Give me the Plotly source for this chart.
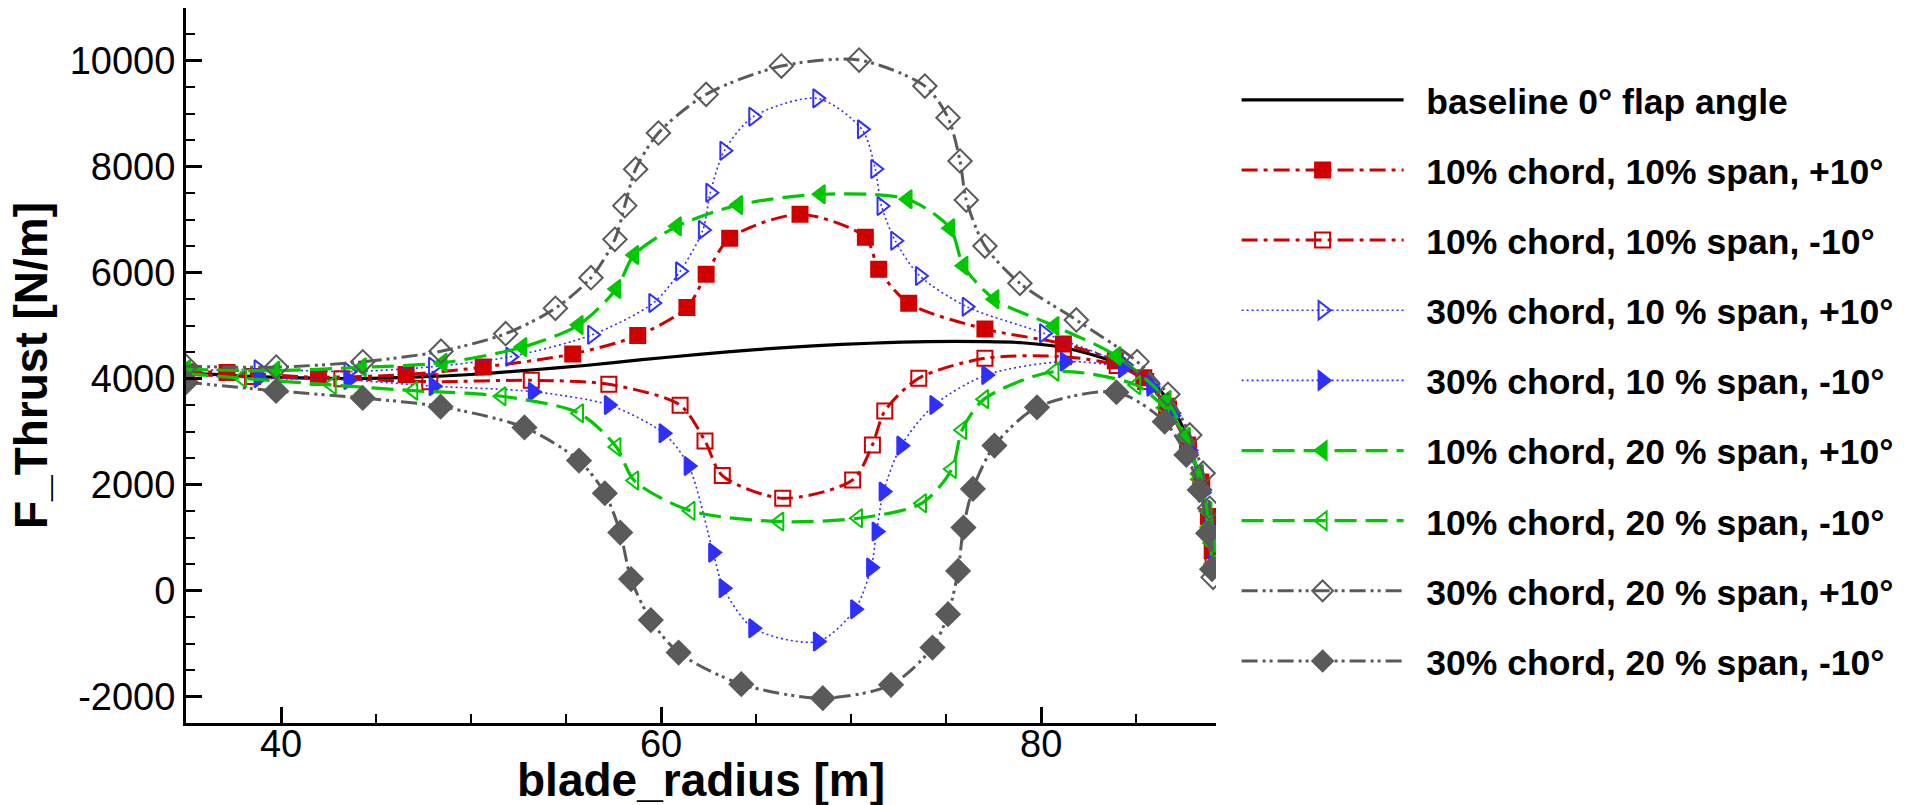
import plotly.graph_objects as go

# Spanwise thrust distribution along the blade for a set of trailing-edge flap cases
radius_base = [35.0, 38.0, 41.0, 44.0, 47.0, 50.0, 53.0, 56.0, 59.0, 62.0, 65.0, 68.0, 71.0,
               74.0, 77.0, 79.0, 81.0, 83.0, 84.5, 85.5, 86.5, 87.5, 88.2, 88.7, 89.0, 89.15]
thrust_base = [4110, 4050, 4015, 4005, 4030, 4080, 4160, 4250, 4360, 4460, 4550, 4620, 4670,
               4700, 4700, 4680, 4600, 4420, 4220, 4020, 3680, 3050, 2300, 1500, 800, 250]

radius_c10s10_p = [35.0, 37.16, 41.97, 46.58, 50.64, 55.35, 58.77, 61.36, 62.37, 63.61, 67.31,
                   70.75, 71.45, 73.03, 77.04, 81.17, 83.9, 85.4, 86.6, 87.7, 88.4, 88.8, 89.0]
thrust_c10s10_p = [4130, 4120, 4030, 4080, 4220, 4468, 4815, 5345, 5972, 6651, 7104,
                   6670, 6066, 5425, 4940, 4657, 4340, 4020, 3480, 2750, 2050, 1400, 750]

radius_c10s10_m = [35.0, 38.5, 43.2, 47.83, 53.17, 57.25, 61.0, 62.31, 63.22, 66.4, 70.08,
                   71.12, 71.77, 73.56, 77.04, 81.17, 84.0, 85.5, 86.7, 87.75, 88.45, 88.85, 89.05]
thrust_c10s10_m = [4080, 4040, 4000, 3945, 3970, 3895, 3500, 2826, 2171, 1744, 2090,
                   2750, 3390, 4009, 4386, 4417, 4250, 3950, 3430, 2700, 1980, 1280, 650]

radius_c30s10_p = [35.0, 38.82, 43.55, 48.0, 52.07, 56.37, 59.59, 61.0, 62.2, 62.59, 63.33, 64.85,
                   68.22, 70.57, 71.27, 71.6, 72.32, 73.62, 76.08, 80.15, 84.4, 85.8, 86.9, 87.8,
                   88.5, 88.85, 89.05]
thrust_c30s10_p = [4150, 4178, 4134, 4228, 4417, 4830, 5430, 6028, 6808, 7512, 8305, 8947,
                   9294, 8709, 7960, 7261, 6606, 5940, 5361, 4858, 4260, 3900, 3350, 2650,
                   1900, 1200, 500]

radius_c30s10_m = [35.0, 38.82, 43.55, 48.03, 53.25, 57.25, 60.13, 61.45, 62.74, 63.29, 64.85,
                   68.25, 70.21, 71.05, 71.34, 71.71, 72.64, 74.38, 77.11, 81.24, 84.3, 85.8,
                   86.9, 87.8, 88.5, 88.85, 89.05]
thrust_c30s10_m = [4080, 4009, 3977, 3860, 3756, 3505, 2971, 2354, 717, 45, -710,
                   -962, -351, 434, 1114, 1869, 2737, 3505, 4071, 4323, 4200, 3850,
                   3300, 2600, 1850, 1150, 450]

radius_c10s20_p = [35.0, 39.7, 44.25, 48.5, 52.7, 55.66, 57.64, 58.58, 60.83, 64.05, 68.4,
                   72.97, 75.21, 75.91, 77.54, 80.7, 83.96, 86.6, 87.6, 88.3, 88.75, 88.95]
thrust_c10s20_p = [4178, 4153, 4216, 4300, 4597, 5015, 5695, 6336, 6878, 7280, 7482,
                   7388, 6840, 6134, 5500, 4996, 4430, 3600, 2900, 2200, 1500, 900]

radius_c10s20_m = [35.0, 37.95, 42.67, 46.96, 51.6, 55.68, 57.65, 58.58, 61.55, 66.22, 70.36,
                   73.73, 75.3, 75.84, 77.0, 80.7, 85.0, 86.5, 87.6, 88.3, 88.8, 89.0]
thrust_c10s20_m = [4100, 4009, 3883, 3775, 3670, 3350, 2710, 2080, 1507, 1303, 1366,
                   1650, 2297, 3033, 3615, 4134, 3880, 3450, 2900, 2100, 1200, 500]

radius_c30s20_p = [35.0, 39.75, 44.3, 48.42, 51.82, 54.44, 56.31, 57.57, 58.09, 58.66, 59.86,
                   62.37, 66.33, 70.42, 73.88, 75.1, 75.73, 76.06, 77.04, 78.88, 81.85, 85.05,
                   86.67, 87.82, 88.52, 88.87, 89.05]
thrust_c30s20_p = [4235, 4220, 4320, 4520, 4850, 5330, 5908, 6632, 7268, 7956, 8640,
                   9369, 9904, 10017, 9526, 8928, 8111, 7374, 6506, 5802, 5110, 4323,
                   3707, 2939, 2216, 1555, 250]

radius_c30s20_m = [35.0, 39.74, 44.3, 48.4, 52.81, 55.68, 57.04, 57.85, 58.42, 59.46, 60.92,
                   64.22, 68.51, 72.1, 74.28, 75.1, 75.63, 75.91, 76.41, 77.54, 79.78, 83.96,
                   86.5, 87.64, 88.34, 88.78, 88.99]
thrust_c30s20_m = [3935, 3770, 3637, 3473, 3080, 2454, 1838, 1095, 218, -556, -1170,
                   -1767, -2031, -1780, -1075, -446, 372, 1190, 1920, 2738, 3461, 3745,
                   3190, 2561, 1901, 1083, 404]

series_labels = [
    "baseline 0° flap angle",
    "10% chord, 10% span, +10°",
    "10% chord, 10% span, -10°",
    "30% chord, 10 % span, +10°",
    "30% chord, 10 % span, -10°",
    "10% chord, 20 % span, +10°",
    "10% chord, 20 % span, -10°",
    "30% chord, 20 % span, +10°",
    "30% chord, 20 % span, -10°",
]

thrust_tick_values = [-2000, 0, 2000, 4000, 6000, 8000, 10000]
thrust_tick_labels = ["-2000", "0", "2000", "4000", "6000", "8000", "10000"]
radius_tick_values = [40, 60, 80]
radius_tick_labels = ["40", "60", "80"]

RED = "#d00000"
BLUE = "#2f2fff"
GREEN = "#00c800"
GRAY = "#5a5a5a"

DASHDOT = "16px,6px,4px,6px"
DOTTED = "2px,3px"
DASHED = "22px,9px"
DASHDOTDOT = "16px,5px,3px,4px,3px,5px"

styles = [
    dict(x=radius_base, y=thrust_base, color="#000000", dash="solid", width=3.2, symbol=None, size=0),
    dict(x=radius_c10s10_p, y=thrust_c10s10_p, color=RED, dash=DASHDOT, width=3, symbol="square", size=15),
    dict(x=radius_c10s10_m, y=thrust_c10s10_m, color=RED, dash=DASHDOT, width=3, symbol="square-open", size=15),
    dict(x=radius_c30s10_p, y=thrust_c30s10_p, color=BLUE, dash=DOTTED, width=1.6, symbol="triangle-right-open", size=16),
    dict(x=radius_c30s10_m, y=thrust_c30s10_m, color=BLUE, dash=DOTTED, width=1.6, symbol="triangle-right", size=16),
    dict(x=radius_c10s20_p, y=thrust_c10s20_p, color=GREEN, dash=DASHED, width=3.2, symbol="triangle-left", size=16),
    dict(x=radius_c10s20_m, y=thrust_c10s20_m, color=GREEN, dash=DASHED, width=3.2, symbol="triangle-left-open", size=16),
    dict(x=radius_c30s20_p, y=thrust_c30s20_p, color=GRAY, dash=DASHDOTDOT, width=3, symbol="diamond-open", size=18),
    dict(x=radius_c30s20_m, y=thrust_c30s20_m, color=GRAY, dash=DASHDOTDOT, width=3, symbol="diamond", size=18),
]

fig = go.Figure()
for i, (label, st) in enumerate(zip(series_labels, styles)):
    trace = dict(
        x=st["x"], y=st["y"], name="\u2002" + label, legendgroup=f"g{i}",
        line=dict(color=st["color"], dash=st["dash"], width=st["width"], shape="spline", smoothing=0.8),
    )
    if st["symbol"] is None:
        trace["mode"] = "lines"
    else:
        trace["mode"] = "lines+markers"
        trace["marker"] = dict(symbol=st["symbol"], size=st["size"], color=st["color"],
                               line=dict(color=st["color"], width=2))
    fig.add_trace(go.Scatter(**trace))

FONT = "Liberation Sans, Arial, Helvetica, sans-serif"

fig.update_layout(
    width=1914, height=805,
    margin=dict(l=186, r=698, t=8, b=82, autoexpand=False),
    paper_bgcolor="white", plot_bgcolor="white",
    font=dict(family=FONT, color="black"),
    showlegend=True,
    legend=dict(
        x=1.02, xanchor="left", y=0.913, yanchor="top",
        font=dict(family=FONT, size=35.5, color="black", weight="bold"),
        itemwidth=162, tracegroupgap=21, traceorder="grouped",
        bgcolor="rgba(0,0,0,0)", itemclick=False,
    ),
    xaxis=dict(
        range=[35, 89.2], tickvals=radius_tick_values, ticktext=radius_tick_labels,
        showgrid=False, zeroline=False, automargin=False,
        showline=True, linecolor="black", linewidth=3, mirror=False,
        ticks="inside", ticklen=16, tickwidth=2.5, tickcolor="black",
        ticklabelstandoff=-15,
        tickfont=dict(family=FONT, size=38, color="black"),
        minor=dict(tick0=35, dtick=5, ticks="inside", ticklen=9, tickwidth=2, tickcolor="black"),
    ),
    yaxis=dict(
        range=[-2500, 11000], tickvals=thrust_tick_values, ticktext=thrust_tick_labels,
        showgrid=False, zeroline=False, automargin=False,
        showline=True, linecolor="black", linewidth=3, mirror=False,
        ticks="inside", ticklen=16, tickwidth=2.5, tickcolor="black",
        tickfont=dict(family=FONT, size=38, color="black"),
        minor=dict(tick0=0, dtick=500, ticks="inside", ticklen=9, tickwidth=2, tickcolor="black"),
        title=dict(text="F_Thrust [N/m]", standoff=8,
                   font=dict(family=FONT, size=46, color="black", weight="bold")),
    ),
    annotations=[
        dict(text="blade_radius [m]", xref="paper", yref="paper", x=0.5, y=-0.04,
             xanchor="center", yanchor="top", showarrow=False,
             font=dict(family=FONT, size=46, color="black", weight="bold")),
    ],
)

fig.write_html("out.html")
